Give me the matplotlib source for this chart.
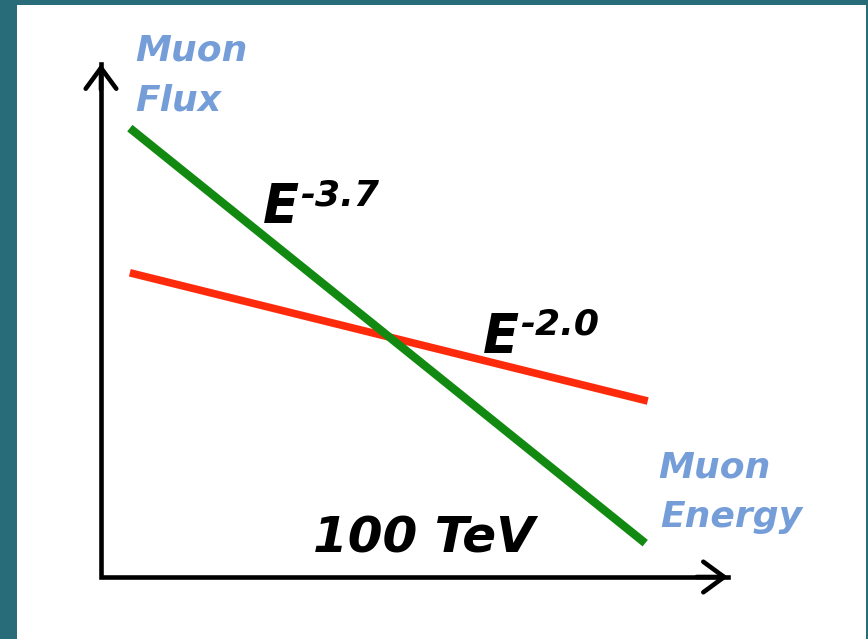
import matplotlib.pyplot as plt
from matplotlib.patches import Rectangle

# sketch of muon flux vs energy (arbitrary units)
energy = [0.46, 8.68]
flux_steep = [8.75, 0.66]     # E^-3.7
energy_r = [0.46, 8.72]
flux_hard = [5.93, 3.43]      # E^-2.0

teal = '#296c79'
green = '#128a12'
red = '#fd2b0c'
blue = '#759ed9'

fig = plt.figure(figsize=(8.68, 6.39), dpi=100)
fig.set_facecolor(teal)
fig.patches.append(Rectangle((17 / 868, 0), (866 - 17) / 868, (639 - 5) / 639,
                             transform=fig.transFigure, facecolor='white',
                             edgecolor='none', zorder=-10))

ax = fig.add_axes([101 / 868, 62 / 639, 627 / 868, 513 / 639])
ax.set_xlim(0, 10)
ax.set_ylim(0, 10)
ax.axis('off')

# axes with open arrow heads
ax.plot([0, 0, 1], [1, 0, 0], transform=ax.transAxes, color='black', lw=3.3,
        solid_joinstyle='miter', clip_on=False)
for end in [(0, 1.0), (1.0, 0)]:
    ax.annotate('', xy=end, xytext=(end[0] * 0.95, end[1] * 0.95),
                xycoords='axes fraction', textcoords='axes fraction',
                arrowprops=dict(arrowstyle='->,head_length=1.5,head_width=1.1',
                                color='black', lw=3.3, shrinkA=0, shrinkB=0,
                                joinstyle='round', capstyle='round'))

ax.plot(energy_r, flux_hard, color=red, lw=5.5, solid_capstyle='butt')
ax.plot(energy, flux_steep, color=green, lw=6, solid_capstyle='butt')

bi = dict(fontweight='bold', fontstyle='italic', clip_on=False)
ax.text(0.54, 10.06, 'Muon', color=blue, fontsize=26, **bi)
ax.text(0.54, 9.10, 'Flux', color=blue, fontsize=26, **bi)
ax.text(8.88, 1.93, 'Muon', color=blue, fontsize=26, **bi)
ax.text(8.92, 0.97, 'Energy', color=blue, fontsize=26, **bi)

ax.text(2.58, 6.92, 'E', color='black', fontsize=38, **bi)
ax.text(3.17, 7.25, '-3.7', color='black', fontsize=26, **bi)
ax.text(6.09, 4.39, 'E', color='black', fontsize=38, **bi)
ax.text(6.68, 4.72, '-2.0', color='black', fontsize=26, **bi)

ax.text(3.38, 0.47, '100 TeV', color='black', fontsize=36, **bi)

plt.savefig('out.png', dpi=100, facecolor=fig.get_facecolor())
